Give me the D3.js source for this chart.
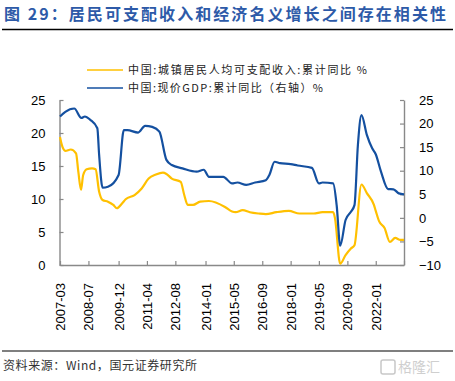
<!DOCTYPE html>
<html><head><meta charset="utf-8">
<script src="https://cdn.jsdelivr.net/npm/d3@7"></script>
<style>
html,body{margin:0;padding:0;background:#fff;}
svg{display:block;}
</style></head>
<body>
<svg id="c" width="455" height="381"></svg>
<script>
const titleText = "图 29：居民可支配收入和经济名义增长之间存在相关性";
const legendIncome = "中国:城镇居民人均可支配收入:累计同比 %";
const legendGdp = "中国:现价GDP:累计同比（右轴）%";
const sourceText = "资料来源：Wind，国元证券研究所";

const xTickLabels = ["2007-03","2008-07","2009-12","2011-04","2012-08","2014-01","2015-05","2016-09","2018-01","2019-05","2020-09","2022-01"];
const leftTicks = [0,5,10,15,20,25];
const rightTicks = [-10,-5,0,5,10,15,20,25];

// 城镇居民人均可支配收入 累计同比 (left axis, %)
const incomeDates = ["2007-03","2007-04","2007-06","2007-09","2007-12","2008-01-10","2008-02-25","2008-04","2008-06","2008-09","2008-11","2009-01","2009-03","2009-06","2009-09","2009-11","2010-02","2010-04","2010-09","2011-01","2011-05","2011-09","2012-01","2012-03","2012-06","2012-11","2013-01","2013-03","2013-06","2013-10","2014-03","2014-12","2015-04","2015-06","2015-10","2016-02","2016-07","2016-11","2017-05","2017-12","2018-06","2019-02","2019-07","2020-01","2020-02","2020-05","2020-08","2020-11","2021-01","2021-05","2021-08","2021-12","2022-01","2022-03","2022-06","2022-09","2022-12","2023-03","2023-05"];
const incomeValues = [19.4,18.2,17.3,17.5,16.9,14.1,11.4,13.6,14.5,14.65,14.5,11.1,9.85,9.6,9.1,8.6,9.35,9.95,10.6,11.6,13.1,13.7,14.0,13.8,13.1,12.6,10.6,9.1,9.1,9.6,9.7,8.8,8.1,8.0,8.3,8.0,7.8,7.7,8.0,8.2,7.8,7.8,8.0,8.0,7.1,0.2,1.5,2.5,3.0,12.2,10.9,9.1,8.2,6.6,5.6,3.5,4.1,3.8,3.8];

// 现价GDP 累计同比 (right axis, %)
const gdpDates = ["2007-03","2007-06","2007-11","2008-03","2008-05","2008-08","2008-12","2009-01","2009-03","2009-06","2009-12","2010-03","2010-05","2010-11","2011-03","2011-07","2011-11","2012-03","2012-06","2012-12","2013-08","2013-12","2014-03","2014-11","2015-04","2015-07","2015-12","2016-05","2016-11","2017-01","2017-04","2017-07","2018-01","2018-05","2019-01","2019-05","2019-07","2020-01","2020-03","2020-05","2020-08","2020-11","2021-01","2021-03","2021-05","2021-08","2021-11","2022-01","2022-04","2022-08","2022-11","2023-02","2023-05"];
const gdpValues = [21.5,22.5,23.2,21.2,21.5,20.8,19.0,13.3,6.4,6.6,9.1,18.6,18.6,18.1,19.5,19.3,18.3,12.3,11.2,10.5,9.8,10.2,8.7,8.7,7.3,7.5,7.0,7.5,8.0,9.1,11.9,11.6,11.4,11.1,10.6,7.3,7.5,7.3,2.7,-5.9,-0.45,1.3,2.7,15.5,21.8,17.6,14.75,13.5,9.8,6.1,6.05,5.2,5.0];

const parse = s => s.length > 7 ? d3.timeParse("%Y-%m-%d")(s) : d3.timeParse("%Y-%m")(s);
const svg = d3.select("#c");

// Title
svg.append("text").attr("x",4).attr("y",20)
  .attr("font-family","'Noto Sans CJK SC', sans-serif").attr("font-weight","bold")
  .attr("font-size",16).attr("fill","#2D5AA8")
  .attr("textLength",442).attr("lengthAdjust","spacing").text(titleText);
svg.append("line").attr("x1",2).attr("x2",453).attr("y1",29.5).attr("y2",29.5)
  .attr("stroke","#000").attr("stroke-width",1.5);

// Scales
const x = d3.scaleTime().domain([parse("2007-03"), parse("2023-05")]).range([60,404]);
const yL = d3.scaleLinear().domain([0,25]).range([265,100]);
const yR = d3.scaleLinear().domain([-10,25]).range([265,100]);

const axisColor = "#898989";
const fontAx = "'Liberation Sans', Arial, sans-serif";

// Left axis
const gL = svg.append("g").attr("transform","translate(59.5,0)")
  .call(d3.axisLeft(yL).tickValues(leftTicks).tickSizeInner(-4).tickSizeOuter(0).tickPadding(14));
// Right axis
const gR = svg.append("g").attr("transform","translate(404,0)")
  .call(d3.axisRight(yR).tickValues(rightTicks).tickSizeInner(-4).tickSizeOuter(0).tickPadding(15));
// Bottom axis
const tickDates = xTickLabels.map(parse).concat([parse("2023-05")]);
const gB = svg.append("g").attr("transform","translate(0,265)")
  .call(d3.axisBottom(x).tickValues(tickDates).tickSizeInner(-4).tickSizeOuter(0)
    .tickFormat(d => { const s = d3.timeFormat("%Y-%m")(d); return xTickLabels.includes(s) ? s : ""; }));
gB.selectAll("text").attr("transform","rotate(-90)").attr("x",-18).attr("y",0)
  .attr("dy","0.35em").attr("text-anchor","end");

[gL,gR,gB].forEach(g => {
  g.selectAll("path.domain").attr("stroke",axisColor).attr("stroke-width",1.4);
  g.selectAll(".tick line").attr("stroke",axisColor).attr("stroke-width",1.2);
  g.selectAll("text").attr("font-family",fontAx).attr("font-size",13).attr("fill","#000");
});

// Lines
const incomeData = incomeDates.map((d,i)=>({d:parse(d), v:incomeValues[i]}));
const gdpData = gdpDates.map((d,i)=>({d:parse(d), v:gdpValues[i]}));
const lineL = d3.line().x(p=>x(p.d)).y(p=>yL(p.v)).curve(d3.curveMonotoneX);
const lineR = d3.line().x(p=>x(p.d)).y(p=>yR(p.v)).curve(d3.curveMonotoneX);

svg.append("path").datum(incomeData).attr("d",lineL).attr("fill","none")
  .attr("stroke","#FFC000").attr("stroke-width",2.2).attr("stroke-linejoin","round");
svg.append("path").datum(gdpData).attr("d",lineR).attr("fill","none")
  .attr("stroke","#1450A0").attr("stroke-width",2.2).attr("stroke-linejoin","round");

// Legend
const leg = [
  {c:"#FFC000", t:legendIncome, y:70, w:239},
  {c:"#1450A0", t:legendGdp, y:88, w:195}
];
leg.forEach(l => {
  svg.append("line").attr("x1",87).attr("x2",123).attr("y1",l.y).attr("y2",l.y)
    .attr("stroke",l.c).attr("stroke-width",1.5);
  svg.append("text").attr("x",128).attr("y",l.y).attr("dy","0.36em")
    .attr("font-family","'Noto Sans CJK SC', sans-serif").attr("font-size",11).attr("fill","#222")
    .attr("textLength",l.w).attr("lengthAdjust","spacing").text(l.t);
});

// Footer
svg.append("line").attr("x1",2).attr("x2",453).attr("y1",351).attr("y2",351)
  .attr("stroke","#000").attr("stroke-width",1.2);
svg.append("text").attr("x",3).attr("y",370)
  .attr("font-family","'Noto Sans CJK SC', sans-serif").attr("font-size",12).attr("fill","#333")
  .attr("textLength",194).attr("lengthAdjust","spacing").text(sourceText);
// watermark
svg.append("rect").attr("x",381).attr("y",360).attr("width",14).attr("height",14).attr("rx",2)
  .attr("fill","none").attr("stroke","#c8c8c8").attr("stroke-width",1.5);
svg.append("text").attr("x",398).attr("y",372)
  .attr("font-family","'Noto Sans CJK SC', sans-serif").attr("font-size",14).attr("fill","#cfcfcf")
  .text("格隆汇");
</script>
</body></html>
